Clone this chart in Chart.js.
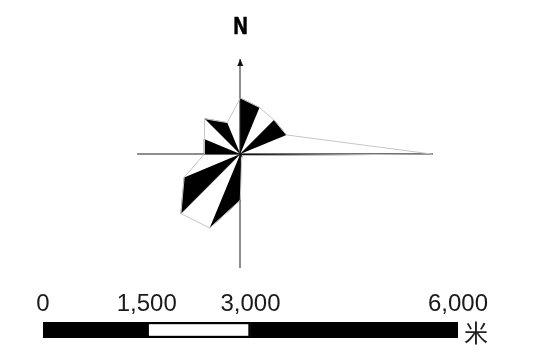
<!DOCTYPE html>
<html>
<head>
<meta charset="utf-8">
<script src="https://cdn.jsdelivr.net/npm/chart.js@4.4.0/dist/chart.umd.min.js"></script>
<style>
  html, body { margin: 0; padding: 0; background: #fff; }
  #wrap { position: relative; width: 541px; height: 361px; overflow: hidden; background: #fff; }
  #rose { position: absolute; left: 0; top: 0; }
  #scaleBar { position: absolute; left: 0; top: 270px; }
  .north {
    position: absolute; left: 220px; width: 41px; top: 15px; text-align: center;
    font-family: "Liberation Sans", Arial, sans-serif; font-weight: bold; font-size: 23px;
    line-height: 1; transform: scaleX(0.85); color: #000;
    -webkit-text-stroke: 0.7px #000;
  }
  .unit {
    position: absolute; left: 464px; top: 320px;
    font: 24px "Noto Sans CJK SC", sans-serif; line-height: 1; color: #222;
  }
</style>
</head>
<body>
<div id="wrap">
  <canvas id="rose" width="541" height="270"></canvas>
  <canvas id="scaleBar" width="541" height="80"></canvas>
  <div class="north">N</div>
  <div class="unit">米</div>
</div>
<script>
// wind directions, clockwise from north
const directions = ['N', 'NNE', 'NE', 'ENE', 'E', 'ESE', 'SE', 'SSE',
                    'S', 'SSW', 'SW', 'WSW', 'W', 'WNW', 'NW', 'NNW'];
// wind frequency per direction
const frequency = [7.0, 6.3, 6.0, 6.25, 24.0, 0.45, 0.4, 0.5,
                   5.75, 10.0, 10.5, 7.6, 4.5, 4.9, 6.25, 4.25];
// sectors (from this direction to the next one) filled black
const shadedFrom = ['N', 'NE', 'E', 'SE', 'S', 'SW', 'W', 'NW'];

// scale bar, metres
const barSegments = [1500, 1500, 3000];
const barTicks = [0, 1500, 3000, 6000];

const Y_TOP = 11.75;

// polar -> x/y in frequency units, north up
function toPoint(i) {
    const a = i * 2 * Math.PI / directions.length;
    return { x: frequency[i] * Math.sin(a), y: frequency[i] * Math.cos(a) };
}

// ===============================
// Wind rose
// ===============================
const outline = directions.map((d, i) => toPoint(i));
outline.push(toPoint(0));

const wedgeSets = shadedFrom.map(d => {
    const i = directions.indexOf(d);
    const j = (i + 1) % directions.length;
    return {
        data: [{ x: 0, y: 0 }, toPoint(i), toPoint(j)],
        showLine: true,
        fill: 'shape',
        backgroundColor: '#000',
        borderColor: '#000',
        borderWidth: 0.5,
        pointRadius: 0
    };
});

const northArrow = {
    id: 'northArrow',
    afterDatasetsDraw(chart) {
        const { ctx, scales: { x, y } } = chart;
        const cx = x.getPixelForValue(0);
        const top = y.getPixelForValue(Y_TOP);
        ctx.save();
        ctx.fillStyle = '#111';
        ctx.beginPath();
        ctx.moveTo(cx, top - 1);
        ctx.lineTo(cx - 3, top + 6);
        ctx.lineTo(cx + 3, top + 6);
        ctx.closePath();
        ctx.fill();
        ctx.restore();
    }
};

const crossAxis = (pos) => ({
    type: 'linear',
    position: pos,
    ticks: { display: false },
    grid: { display: false, drawTicks: false },
    border: { display: true, color: '#8e8e8e', width: 2 }
});

new Chart(document.getElementById('rose'), {
    type: 'scatter',
    data: {
        datasets: [{
            data: outline,
            showLine: true,
            fill: false,
            borderColor: '#c6c6c6',
            borderWidth: 1,
            pointRadius: 0,
            clip: false
        }].concat(wedgeSets)
    },
    options: {
        responsive: false,
        animation: false,
        devicePixelRatio: 1,
        layout: { padding: { left: 138, right: 109, top: 60, bottom: 3 } },
        plugins: { legend: { display: false }, tooltip: { enabled: false } },
        scales: {
            x: Object.assign(crossAxis({ y: 0 }), { min: -12.8, max: 24 }),
            y: Object.assign(crossAxis({ x: 0 }), { min: -14.1, max: Y_TOP })
        }
    },
    plugins: [northArrow]
});

// ===============================
// Scale bar
// ===============================
new Chart(document.getElementById('scaleBar'), {
    type: 'bar',
    data: {
        labels: [''],
        datasets: barSegments.map((v, k) => ({
            data: [v],
            backgroundColor: k === 1 ? '#fff' : '#000',
            borderColor: '#000',
            borderWidth: k === 1 ? 2.5 : 0,
            borderSkipped: false,
            barPercentage: 1,
            categoryPercentage: 1
        }))
    },
    options: {
        indexAxis: 'y',
        responsive: false,
        animation: false,
        devicePixelRatio: 1,
        layout: { padding: { left: 43, right: 83, top: 12, bottom: 12 } },
        plugins: { legend: { display: false }, tooltip: { enabled: false } },
        scales: {
            x: {
                stacked: true,
                position: 'top',
                min: 0,
                max: 6000,
                afterBuildTicks: ax => { ax.ticks = barTicks.map(v => ({ value: v })); },
                afterFit: ax => { ax.height = 40; },
                ticks: {
                    callback: v => v.toLocaleString('en-US'),
                    font: { family: "'Liberation Sans', Arial, sans-serif", size: 24 },
                    color: '#1a1a1a',
                    padding: 3,
                    maxRotation: 0,
                    autoSkip: false
                },
                grid: { display: false, drawTicks: false },
                border: { display: false }
            },
            y: { stacked: true, display: false }
        }
    }
});
</script>
</body>
</html>
